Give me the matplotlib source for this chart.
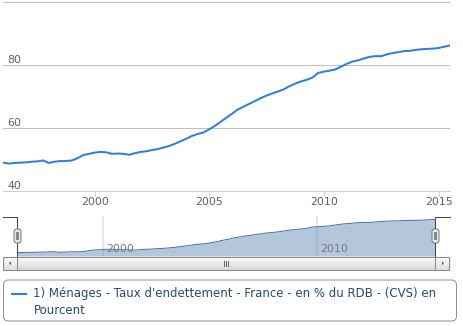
import datetime as dt
import matplotlib
matplotlib.use("Agg")
import matplotlib.pyplot as plt
import numpy as np
import pandas as pd
from matplotlib.patches import FancyBboxPatch, Rectangle, Polygon

# quarterly household debt ratio, % of gross disposable income
quarters = pd.date_range("1996-01-01", periods=79, freq="QS").to_pydatetime()
taux = [49.0, 48.7, 48.9, 49.0, 49.1, 49.3, 49.4, 49.7, 48.9, 49.3,
        49.5, 49.5, 49.7, 50.4, 51.4, 51.8, 52.2, 52.4, 52.3, 51.8,
        51.9, 51.8, 51.5, 52.0, 52.4, 52.6, 53.0, 53.3, 53.8, 54.3,
        55.0, 55.8, 56.6, 57.5, 58.1, 58.6, 59.6, 60.7, 62.0, 63.3,
        64.6, 65.9, 66.8, 67.7, 68.6, 69.5, 70.3, 71.0, 71.6, 72.3,
        73.3, 74.1, 74.8, 75.3, 76.0, 77.5, 77.9, 78.2, 78.6, 79.5,
        80.4, 81.1, 81.5, 82.1, 82.6, 82.8, 82.8, 83.4, 83.8, 84.1,
        84.4, 84.5, 84.8, 85.0, 85.1, 85.2, 85.4, 85.8, 86.2]
year_ticks = [2000, 2005, 2010, 2015]
nav_years = [2000, 2010]
y_ticks = [40, 60, 80, 100]
y_labels = ["40", "60", "80"]
legend_label = ("1) Ménages - Taux d'endettement - France - en % du RDB - (CVS) en\n"
                "Pourcent")

LINE = "#2f7ed8"
NAV = "#4572A7"
W, H = 464, 326
PT = 0.72  # points per pixel at 100 dpi

fig = plt.figure(figsize=(W / 100, H / 100), dpi=100)


def box(x0, y0, x1, y1):
    return [x0 / W, 1 - y1 / H, (x1 - x0) / W, (y1 - y0) / H]


# --- main chart ---
ax = fig.add_axes(box(3, 2, 450, 191))
ax.plot(quarters, taux, color=LINE, lw=2 * PT, solid_joinstyle="round",
        zorder=3)
ax.set_xlim(quarters[0], quarters[-1])
ax.set_ylim(40, 100)
ax.set_yticks(y_ticks)
ax.yaxis.grid(True, color="#C0C0C0", lw=1 * PT)
ax.tick_params(axis="y", length=0, labelleft=False)
for v, s in zip(y_ticks, y_labels):
    ax.annotate(s, xy=(0, v), xycoords=("axes fraction", "data"),
                xytext=(4, 2), textcoords="offset pixels",
                ha="left", va="baseline", fontsize=11 * PT, color="#606060")
ax.set_xticks([dt.datetime(y, 1, 1) for y in year_ticks])
ax.set_xticklabels([str(y) for y in year_ticks])
ax.tick_params(axis="x", length=5 * PT, width=1 * PT, color="#C0D0E0",
               labelsize=11 * PT, labelcolor="#606060", pad=1)
for side in ["top", "left", "right"]:
    ax.spines[side].set_visible(False)
ax.spines["bottom"].set_color("#C0D0E0")
ax.spines["bottom"].set_linewidth(1 * PT)
ax.set_axisbelow(True)

# --- navigator ---
nav = fig.add_axes(box(17, 216, 435, 256))
nav_lo = 44.8
nav.fill_between(quarters, taux, nav_lo, color=NAV, alpha=0.4, lw=0, zorder=2)
nav.plot(quarters, taux, color=NAV, lw=1 * PT, zorder=3)
nav.set_xlim(quarters[0], quarters[-1])
nav.set_ylim(nav_lo, 90)
for y in nav_years:
    d = dt.datetime(y, 1, 1)
    nav.axvline(d, color="#dddddd", lw=1.5 * PT, zorder=1)
    nav.annotate(str(y), xy=(d, 0), xycoords=("data", "axes fraction"),
                 xytext=(3, 4), textcoords="offset pixels",
                 ha="left", va="baseline", fontsize=11 * PT, color="#777777",
                 zorder=4)
nav.set_xticks([])
nav.set_yticks([])
for s in nav.spines.values():
    s.set_visible(False)

# --- widgets drawn in pixel space ---
ov = fig.add_axes([0, 0, 1, 1])
ov.set_xlim(0, W)
ov.set_ylim(H, 0)
ov.axis("off")

# navigator mask outline
ov.plot([3, 17.5, 17.5], [216.5, 216.5, 256], color="#444444", lw=1 * PT)
ov.plot([435.5, 435.5, 450], [256, 216.5, 216.5], color="#444444", lw=1 * PT)

# scrollbar track, thumb and buttons
grad = np.linspace(1, 0, 50).reshape(-1, 1)


def gradient_rect(x0, y0, x1, y1, edge, top="#ffffff", bottom="#d8d8d8"):
    c1 = np.array(matplotlib.colors.to_rgb(top))
    c2 = np.array(matplotlib.colors.to_rgb(bottom))
    img = c2 + (c1 - c2) * grad[..., None]
    im = ov.imshow(img, extent=[x0, x1, y1, y0], aspect="auto", zorder=2)
    r = Rectangle((x0, y0), x1 - x0, y1 - y0, fc="none", ec=edge, lw=1 * PT,
                  zorder=3)
    ov.add_patch(r)
    im.set_clip_path(r)


ov.add_patch(Rectangle((3, 256.5), 447, 13.5, fc="#eeeeee", ec="#eeeeee",
                       lw=1 * PT, zorder=1))
gradient_rect(17.5, 256.5, 435.5, 270, "#888888")
gradient_rect(3.5, 256.5, 17.5, 270, "#888888", bottom="#dddddd")
gradient_rect(435.5, 256.5, 449.5, 270, "#888888", bottom="#dddddd")
ov.add_patch(Polygon([[9, 263.3], [11, 261.5], [11, 265]], closed=True,
                     fc="#555555", ec="none", zorder=4))
ov.add_patch(Polygon([[444, 263.3], [442, 261.5], [442, 265]], closed=True,
                     fc="#555555", ec="none", zorder=4))
for gx in [224.5, 226.5, 228.5]:
    ov.plot([gx, gx], [261, 266], color="#444444", lw=0.8 * PT, zorder=4)

# navigator handles
for hx in [17.5, 435.5]:
    ov.add_patch(FancyBboxPatch((hx - 3.5, 229), 7, 14,
                                boxstyle="round,pad=0,rounding_size=2.5",
                                fc="#ebe7e8", ec="#777777", lw=1 * PT,
                                zorder=5))
    ov.add_patch(Rectangle((hx - 1.3, 232), 2.6, 8, fc="#888888", ec="none",
                           zorder=6))

# legend
ov.add_patch(FancyBboxPatch((3.5, 280), 453, 41,
                            boxstyle="round,pad=0,rounding_size=5",
                            fc="white", ec="#909090", lw=1 * PT, zorder=1))
ov.plot([12, 26.5], [294, 294], color=LINE, lw=2 * PT, zorder=2)
ov.text(33.5, 287.5, legend_label, ha="left", va="top", fontsize=11.75 * PT,
        color="#274b6d", linespacing=1.3, family="DejaVu Sans", zorder=2)

fig.savefig("out.png", dpi=100)
